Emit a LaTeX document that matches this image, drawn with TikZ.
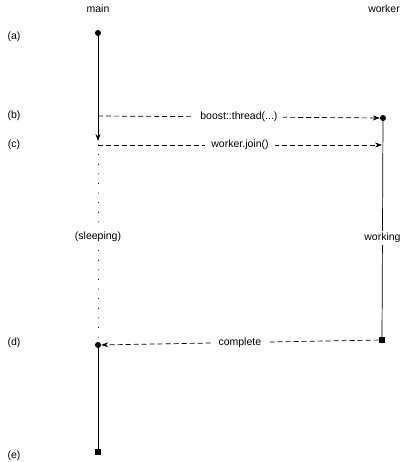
\documentclass[tikz,border=0pt]{standalone}
\usepackage{fontspec}
\setmainfont{Liberation Sans}
\usetikzlibrary{arrows.meta,positioning}

\begin{document}
\begin{tikzpicture}[>={Stealth[length=7pt,width=5pt]},font=\fontsize{10.5}{12}\selectfont,x=1pt,y=-1pt,
 dot/.style={circle,fill,inner sep=0pt,minimum size=6pt},
 sq/.style={rectangle,fill,inner sep=0pt,minimum size=6.5pt},
 msg/.style={dashed,dash pattern=on 5pt off 3pt,line width=0.7pt},
 life/.style={line width=0.7pt},
 lab/.style={fill=white,inner xsep=6pt,inner ysep=2pt}]
\useasboundingbox (0,0) rectangle (410,462);
% heads
\node (main) at (98,9) {main};
\node (worker) at (384,9) {worker};
% steps
\node (sa) at (14,37) {(a)};
\node (sb) at (14,116) {(b)};
\node (sc) at (14,145) {(c)};
\node (sd) at (14,343) {(d)};
\node (se) at (14,456) {(e)};
% main thread
\node[dot] (ma) at (98,33) {};
\coordinate (mb) at (98,116);
\coordinate (mc) at (98,145);
\node[dot] (md) at (98,345) {};
\node[sq] (me) at (98,452) {};
% worker thread
\node[dot] (wb) at (383,118) {};
\coordinate (wc) at (382,145);
\node[sq] (wd) at (382,340) {};
\draw[life,->,shorten >=4pt] (ma.center) -- (mc);
\draw[life,line cap=round,dash pattern=on 0.1pt off 9.5pt,line width=1pt] (mc) -- node[lab,pos=0.465] {(sleeping)} (md);
\draw[life] (md.center) -- (me.center);
\draw[life] (wb.center) -- node[lab,pos=0.54] {working} (wd.center);
% messages
\draw[msg,->] (mb) -- node[lab] {boost::thread(...)} (wb);
\draw[msg,->] (mc) -- node[lab] {worker.join()} (wc);
\draw[msg,->] (wd) -- node[lab] {complete} (md);
\end{tikzpicture}
\end{document}
